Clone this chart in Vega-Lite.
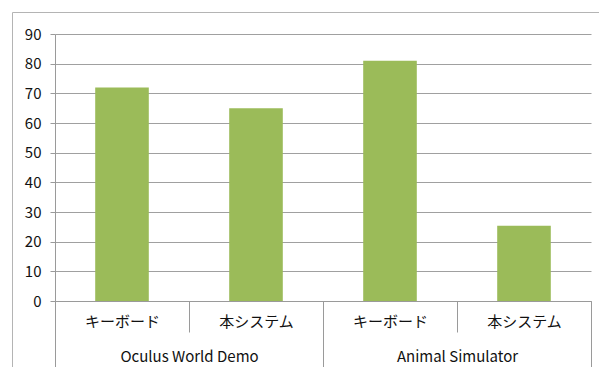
{
  "$schema": "https://vega.github.io/schema/vega-lite/v6.json",
  "width": 536,
  "height": 267,
  "autosize": {"type": "none"},
  "padding": {"left": 55, "top": 34, "right": 8, "bottom": 66},
  "background": "white",
  "config": {
    "view": {"stroke": null},
    "font": "Noto Sans CJK JP",
    "axis": {
      "labelFont": "Noto Sans CJK JP",
      "labelFontSize": 15,
      "labelColor": "#111111",
      "tickColor": "#9a9a9a",
      "domainColor": "#9a9a9a",
      "gridColor": "#a0a0a0",
      "title": null
    }
  },
  "data": {
    "values": [
      {"group": "Oculus World Demo", "method": "キーボード", "value": 72},
      {"group": "Oculus World Demo", "method": "本システム", "value": 65},
      {"group": "Animal Simulator", "method": "キーボード", "value": 81},
      {"group": "Animal Simulator", "method": "本システム", "value": 25.4}
    ]
  },
  "transform": [{"calculate": "datum.group + '|' + datum.method", "as": "bar"}],
  "layer": [
    {
      "mark": {"type": "bar", "color": "#9BBB59", "width": {"band": 0.4}},
      "encoding": {
        "x": {
          "field": "bar",
          "type": "nominal",
          "sort": null,
          "scale": {"type": "band", "paddingInner": 0, "paddingOuter": 0},
          "axis": {
            "orient": "bottom",
            "labelAngle": 0,
            "labelExpr": "split(datum.label, '|')[1]",
            "tickBand": "extent",
            "tickSize": 31,
            "labelPadding": -18,
            "grid": false
          }
        },
        "y": {
          "field": "value",
          "type": "quantitative",
          "scale": {"domain": [0, 90], "nice": false},
          "axis": {
            "orient": "left",
            "values": [0, 10, 20, 30, 40, 50, 60, 70, 80, 90],
            "tickSize": 5,
            "labelPadding": 9,
            "grid": true
          }
        }
      }
    },
    {
      "mark": {"type": "point", "opacity": 0},
      "encoding": {
        "x": {
          "field": "group",
          "type": "nominal",
          "sort": null,
          "scale": {"type": "band", "paddingInner": 0, "paddingOuter": 0},
          "axis": {
            "orient": "bottom",
            "labelAngle": 0,
            "tickBand": "extent",
            "tickSize": 70,
            "labelPadding": -22,
            "domain": false,
            "grid": false
          }
        }
      }
    },
    {
      "mark": {"type": "point", "opacity": 0},
      "encoding": {
        "x": {
          "field": "value",
          "type": "quantitative",
          "scale": {"range": [-43, 560]},
          "axis": {
            "orient": "top",
            "offset": 22,
            "labels": false,
            "ticks": false,
            "grid": false,
            "domainColor": "#b4b4b4"
          }
        },
        "y": {
          "field": "value",
          "type": "quantitative",
          "scale": {"range": [340, -22]},
          "axis": {
            "orient": "left",
            "offset": 43,
            "labels": false,
            "ticks": false,
            "grid": false,
            "domainColor": "#b4b4b4"
          }
        }
      }
    }
  ],
  "resolve": {
    "scale": {"x": "independent", "y": "independent"},
    "axis": {"x": "independent", "y": "independent"}
  }
}
